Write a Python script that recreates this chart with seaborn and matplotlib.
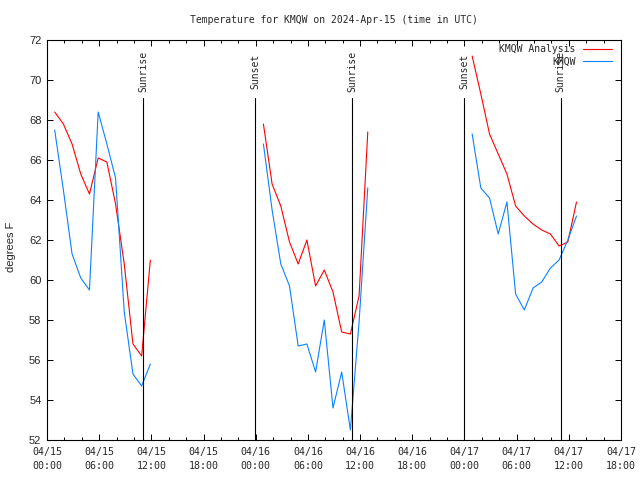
import matplotlib
matplotlib.use("Agg")
import matplotlib.pyplot as plt
import matplotlib.dates as mdates
from matplotlib.transforms import blended_transform_factory
import pandas as pd
import seaborn as sns

# hourly obs (hh:53 UTC), three mornings
day1_start = "2024-04-15 00:53"
day1_analysis = [68.4, 67.8, 66.8, 65.3, 64.3, 66.1, 65.9, 63.8, 60.8, 56.8, 56.2, 61.0]
day1_obs = [67.5, 64.5, 61.3, 60.1, 59.5, 68.4, 66.8, 65.1, 58.4, 55.3, 54.7, 55.8]

day2_start = "2024-04-16 00:53"
day2_analysis = [67.8, 64.8, 63.7, 61.9, 60.8, 62.0, 59.7, 60.5, 59.4, 57.4, 57.3, 59.2, 67.4]
day2_obs = [66.8, 63.5, 60.8, 59.7, 56.7, 56.8, 55.4, 58.0, 53.6, 55.4, 52.5, 57.9, 64.6]

day3_start = "2024-04-17 00:53"
day3_analysis = [71.2, 69.3, 67.3, 66.3, 65.3, 63.7, 63.2, 62.8, 62.5, 62.3, 61.7, 61.9, 63.9]
day3_obs = [67.3, 64.6, 64.1, 62.3, 63.9, 59.3, 58.5, 59.6, 59.9, 60.6, 61.0, 62.0, 63.2]

sun_times = ["2024-04-15 11:05", "2024-04-15 23:57", "2024-04-16 11:04",
             "2024-04-17 00:00", "2024-04-17 11:03"]
sun_labels = ["Sunrise", "Sunset", "Sunrise", "Sunset", "Sunrise"]

series_names = ["KMQW Analysis", "KMQW"]
colors = {"KMQW Analysis": "#ff0000", "KMQW": "#0a82ff"}

rows = []
days = [(day1_start, day1_analysis, day1_obs),
        (day2_start, day2_analysis, day2_obs),
        (day3_start, day3_analysis, day3_obs)]
for seg, (start, ana, obs) in enumerate(days):
    times = pd.date_range(start, periods=len(ana), freq="h")
    for name, vals in zip(series_names, [ana, obs]):
        for t, v in zip(times, vals):
            rows.append({"time": t, "temp": v, "series": name, "seg": seg})
df = pd.DataFrame(rows)

sns.set_style("ticks")
plt.rcParams["font.family"] = ["DejaVu Sans Mono"]
mono = "DejaVu Sans Mono"
sans = "Liberation Sans"

fig = plt.figure(figsize=(6.4, 4.8), dpi=100)
ax = fig.add_axes([47 / 640, 40 / 480, 574 / 640, 400 / 480])

sns.lineplot(data=df, x="time", y="temp", hue="series", units="seg",
             estimator=None, palette=colors, hue_order=series_names,
             linewidth=0.8, ax=ax)

tr = blended_transform_factory(ax.transData, ax.transAxes)
for st, lab in zip(sun_times, sun_labels):
    t = pd.Timestamp(st)
    ax.axvline(t, ymin=0, ymax=0.854, color="black", lw=0.8)
    ax.text(mdates.date2num(t), 0.9225, lab, transform=tr, rotation=90,
            ha="center", va="center", fontsize=7, family=mono)

ax.set_xlim(pd.Timestamp("2024-04-15 00:00"), pd.Timestamp("2024-04-17 18:00"))
ax.set_ylim(52, 72)
ax.set_yticks(range(52, 73, 2))
ax.xaxis.set_major_locator(mdates.HourLocator(byhour=[0, 6, 12, 18]))
ax.xaxis.set_minor_locator(mdates.HourLocator(interval=2))
ax.xaxis.set_major_formatter(mdates.DateFormatter("%m/%d\n%H:%M"))
ax.tick_params(which="both", direction="in", top=True, right=True,
               color="black", width=0.7)
ax.tick_params(which="major", length=4.5)
ax.tick_params(which="minor", length=2.5)
ax.tick_params(axis="x", pad=5, labelsize=7.2)
ax.tick_params(axis="y", pad=4, labelsize=8)
for lab in ax.get_yticklabels():
    lab.set_family(sans)
for lab in ax.get_xticklabels():
    lab.set_family(mono)
    lab.set_linespacing(1.45)
for sp in ax.spines.values():
    sp.set_visible(True)
    sp.set_linewidth(0.8)
    sp.set_color("black")
ax.set_xlabel("")
ax.set_ylabel("")

fig.text(11 / 640, 1 - 247 / 480, "degrees F", rotation=90, ha="center",
         va="center", fontsize=8, family=sans)
fig.text(334 / 640, 1 - 20 / 480, "Temperature for KMQW on 2024-Apr-15 (time in UTC)",
         ha="center", va="center", fontsize=7, family=mono)

handles, labels = ax.get_legend_handles_labels()
ax.legend(handles, labels, loc="upper right", bbox_to_anchor=(0.984, 0.99),
          frameon=False, markerfirst=False, handlelength=3.0,
          handletextpad=0.7, labelspacing=0.25, borderpad=0, borderaxespad=0,
          prop={"family": mono, "size": 7})

fig.savefig("out.png", dpi=100)
